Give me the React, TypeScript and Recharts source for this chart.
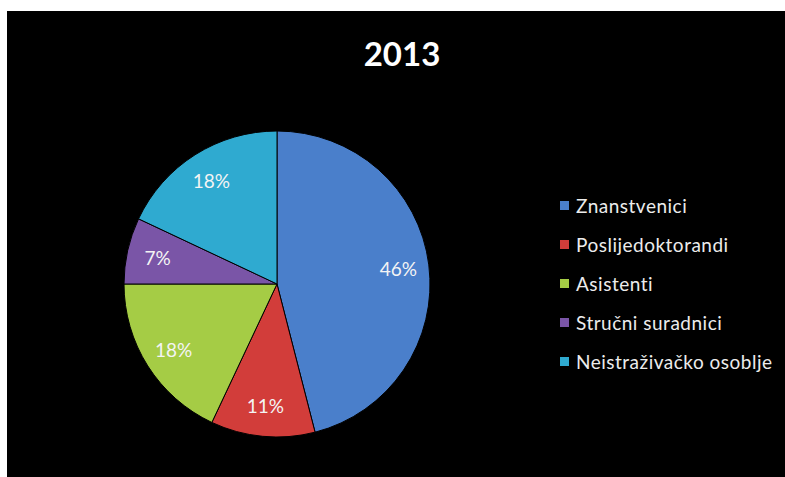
import React from 'react';
import { PieChart, Pie, Cell, Legend } from 'recharts';

const categories = ['Znanstvenici', 'Poslijedoktorandi', 'Asistenti', 'Stručni suradnici', 'Neistraživačko osoblje'];
const shares = [46, 11, 18, 7, 18];
const colors = ['#4A7FCB', '#D23D3A', '#A5CC45', '#7A55A7', '#2FAAD0'];
const title = '2013';

const data = categories.map((name, i) => ({ name, value: shares[i] }));

const RADIAN = Math.PI / 180;
const FONT = 'Lato, "Open Sans", sans-serif';

const renderLabel = (props: any) => {
  const { cx, cy, midAngle, outerRadius, percent } = props;
  const r = outerRadius * 0.8;
  const x = cx + r * Math.cos(-midAngle * RADIAN);
  const y = cy + r * Math.sin(-midAngle * RADIAN);
  return (
    <text x={x} y={y} fill="#f4f4f4" textAnchor="middle" dominantBaseline="central" fontSize={19} fontFamily={FONT}>
      {`${Math.round(percent * 100)}%`}
    </text>
  );
};

// keep the legend in data order (recharts sorts the payload by name)
const renderLegend = () => (
  <div style={{ fontFamily: FONT }}>
    {categories.map((name, i) => (
      <div key={name} style={{ display: 'flex', alignItems: 'center', height: 39 }}>
        <span style={{ width: 9, height: 9, background: colors[i], marginRight: 7, display: 'inline-block' }} />
        <span style={{ color: '#ececec', fontSize: 19, letterSpacing: 0.5 }}>{name}</span>
      </div>
    ))}
  </div>
);

export default function App() {
  return (
    <div style={{ position: 'absolute', left: 7, top: 11, width: 778, height: 466, background: '#000' }}>
      <PieChart width={778} height={466}>
        <text x={395} y={42} textAnchor="middle" dominantBaseline="central" fill="#ffffff" fontSize={33} fontWeight="bold" fontFamily={FONT}>
          {title}
        </text>
        <Pie
          data={data}
          dataKey="value"
          nameKey="name"
          cx={265}
          cy={268}
          outerRadius={153}
          startAngle={90}
          endAngle={-270}
          stroke="#000"
          strokeWidth={1}
          label={renderLabel}
          labelLine={false}
          isAnimationActive={false}
        >
          {data.map((d, i) => (
            <Cell key={d.name} fill={colors[i]} />
          ))}
        </Pie>
        <Legend
          layout="vertical"
          align="right"
          verticalAlign="top"
          content={renderLegend}
          wrapperStyle={{ left: 553, top: 175, width: 225 }}
        />
      </PieChart>
    </div>
  );
}
